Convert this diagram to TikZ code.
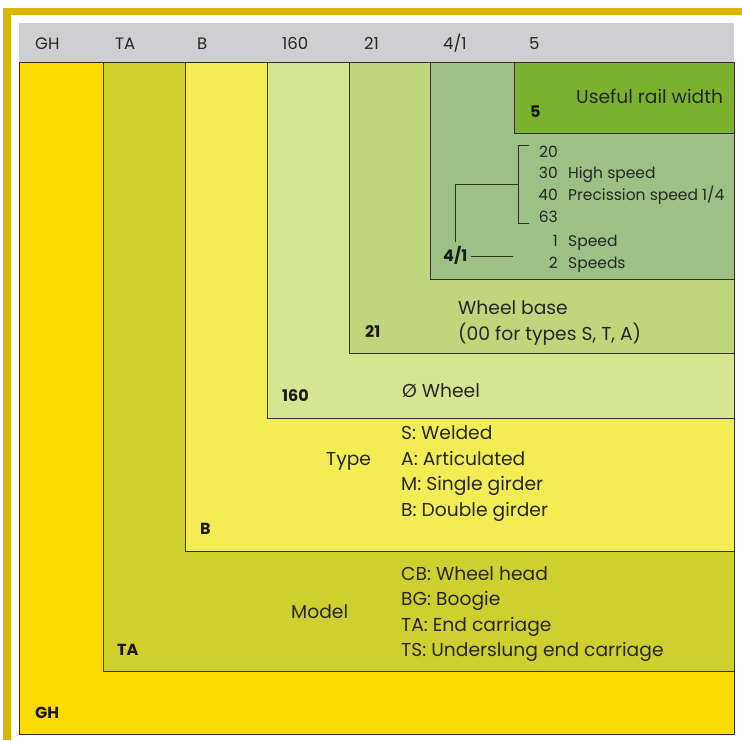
\documentclass[tikz,border=0pt]{standalone}
\usepackage{fontspec}
\setmainfont{Poppins}
\usetikzlibrary{positioning}
\definecolor{framegold}{RGB}{217,180,0}
\definecolor{headgray}{RGB}{207,207,209}
\definecolor{boxline}{RGB}{52,50,30}
\definecolor{ghfill}{RGB}{252,220,0}
\definecolor{tafill}{RGB}{205,208,46}
\definecolor{bfill}{RGB}{242,236,85}
\definecolor{wheelfill}{RGB}{214,229,145}
\definecolor{basefill}{RGB}{192,214,124}
\definecolor{speedfill}{RGB}{157,192,133}
\definecolor{railfill}{RGB}{122,178,48}

\begin{document}
\begin{tikzpicture}[x=1pt,y=-1pt,
	big/.style={inner sep=0pt, anchor=west, text=black!85, font=\fontsize{18.7}{22}\selectfont, text height=13pt, text depth=0pt},
	small/.style={inner sep=0pt, text=black!85, font=\fontsize{15.5}{18}\selectfont, text height=11pt, text depth=0pt},
	code/.style={inner sep=0pt, anchor=west, text=black!90, font=\fontsize{16}{19}\selectfont\bfseries, text height=11.5pt, text depth=0pt},
	head/.style={inner sep=0pt, anchor=west, text=black!85, font=\fontsize{16.5}{19}\selectfont, text height=12pt, text depth=0pt},
	level/.style={draw=boxline, line width=0.9pt}]
	\useasboundingbox (0,0) rectangle (742,740);
	% Frame
	\fill[framegold] (3,8) rectangle (742,740);
	\fill[white] (11,15) rectangle (742,740);
	\fill[headgray] (19,23) rectangle (734,62);
	
	% Header
	\node[head] (hgh) at (35,43) {GH};
	\node[head] (hta) at (115,43) {TA};
	\node[head] (hb) at (197,43) {B};
	\node[head] (hwheel) at (282,43) {160};
	\node[head] (hbase) at (364,43) {21};
	\node[head] (hspeed) at (443,43) {4/1};
	\node[head] (hrail) at (529,43) {5};
	
	% Nested boxes
	\filldraw[level, fill=ghfill] (19,62) rectangle (734,734);
	\filldraw[level, fill=tafill] (103,62) rectangle (734,671);
	\filldraw[level, fill=bfill] (185,62) rectangle (734,551);
	\filldraw[level, fill=wheelfill] (267,62) rectangle (734,418);
	\filldraw[level, fill=basefill] (349,62) rectangle (734,353);
	\filldraw[level, fill=speedfill] (430,62) rectangle (734,279);
	\filldraw[level, fill=railfill] (514,62) rectangle (734,133);
	
	% Useful rail width
	\node[big] (rail) at (576,97) {Useful rail width};
	\node[code] (crail) at (530,112) {5};
	
	% Speeds
	\foreach \num/\ypos in {20/152, 30/173, 40/195, 63/217, 1/241, 2/263}
		\node[small, anchor=east] (n\num) at (558,\ypos) {\num};
	\node[small, anchor=west] (dhigh) at (568,173) {High speed};
	\node[small, anchor=west] (dprec) at (568,195) {Precission speed 1/4};
	\node[small, anchor=west] (done) at (568,241) {Speed};
	\node[small, anchor=west] (dtwo) at (568,263) {Speeds};
	\node[code] (cspeed) at (443,256) {4/1};
	\coordinate (brtop) at (529,145);
	\coordinate (brbot) at (529,223);
	\coordinate (brmid) at (518,184);
	\coordinate (pairend) at (513,256);
	\draw[boxline, line width=0.9pt] (brtop) -- (518,145) -- (518,223) -- (brbot);
	\draw[boxline, line width=0.9pt] (brmid) -| ([yshift=8pt]cspeed.north);
	\draw[boxline, line width=0.9pt] ([xshift=3pt]cspeed.east) -- (pairend);
	
	% Wheel base
	\node[big] (base) at (458,308) {Wheel base};
	\node[big] (baseb) at (458,334) {(00 for types S, T, A)};
	\node[code] (cbase) at (365,332) {21};
	
	% Wheel
	\node[big] (wheel) at (402,391) {Ø Wheel};
	\node[code] (cwheel) at (282,396) {160};
	
	% Type
	\node[big] (type) at (326,459) {Type};
	\foreach \txt [count=\i] in {S: Welded, A: Articulated, M: Single girder, B: Double girder}
		\node[big] (t\i) at (401,{433+25.6*(\i-1)}) {\txt};
	\node[code] (cb) at (200,529) {B};
	
	% Model
	\node[big] (model) at (291,612) {Model};
	\foreach \txt [count=\i] in {CB: Wheel head, BG: Boogie, TA: End carriage, TS: Underslung end carriage}
		\node[big] (m\i) at (401,{574+25.4*(\i-1)}) {\txt};
	\node[code] (cta) at (117,650) {TA};
	
	% GH
	\node[code] (cgh) at (35,713) {GH};
\end{tikzpicture}
\end{document}
